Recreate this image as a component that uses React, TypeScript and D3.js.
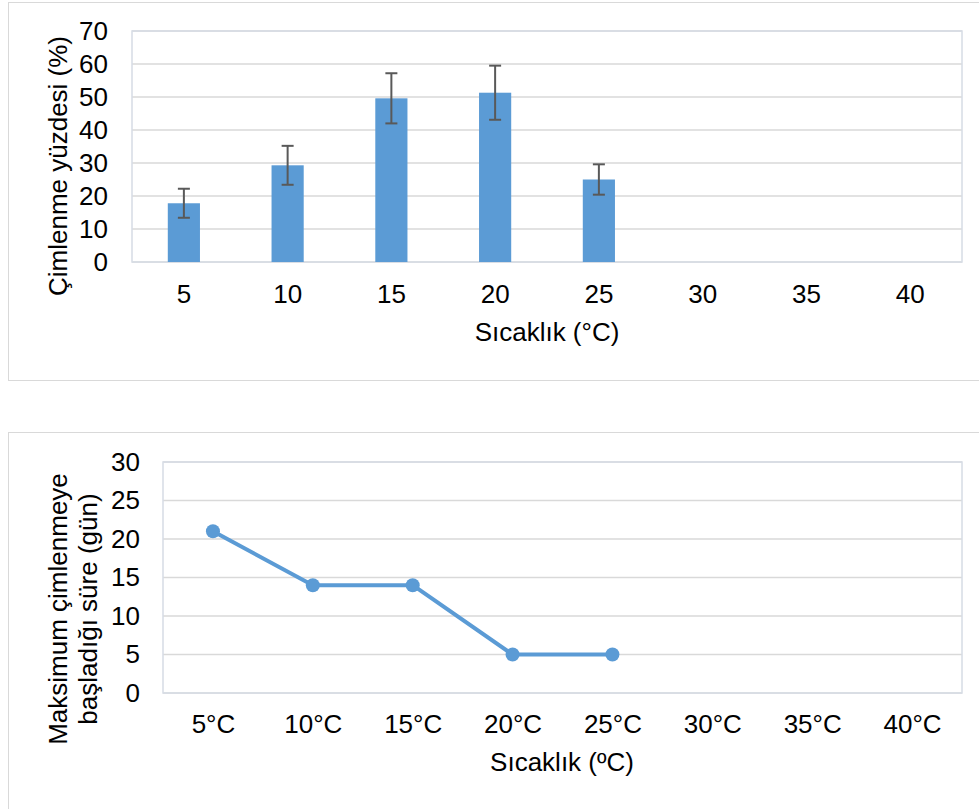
import { useEffect, useRef } from 'react';
import * as d3 from 'd3';

const temps = ['5', '10', '15', '20', '25', '30', '35', '40'];
const germPct = [17.8, 29.3, 49.6, 51.3, 25.0];
const germErr = [4.4, 5.9, 7.6, 8.2, 4.6];
const pctTicks = [0, 10, 20, 30, 40, 50, 60, 70];

const tempLabels = ['5°C', '10°C', '15°C', '20°C', '25°C', '30°C', '35°C', '40°C'];
const maxDays = [21, 14, 14, 5, 5];
const dayTicks = [0, 5, 10, 15, 20, 25, 30];

const FONT = '"Liberation Sans", Arial, sans-serif';
const FS = '26px';
const BLUE = '#5b9bd5';
const GRID = '#d9d9d9';

export default function App() {
  const ref = useRef<SVGSVGElement>(null);
  useEffect(() => {
    if (!ref.current) return;
    const svg = d3.select(ref.current);
    svg.selectAll('*').remove();
    svg.append('rect').attr('width', 979).attr('height', 809).attr('fill', '#fff');

    // ---- top: germination percentage bar chart
    svg.append('rect').attr('x', 8.5).attr('y', 2.5).attr('width', 980).attr('height', 378)
      .attr('fill', 'none').attr('stroke', GRID);
    const t = svg.append('g');
    const x1 = d3.scaleBand().domain(temps).range([132, 962]).padding(0);
    const y1 = d3.scaleLinear().domain([0, 70]).range([262, 31]);
    t.append('g').selectAll('line').data(pctTicks).enter().append('line')
      .attr('x1', 132).attr('x2', 962).attr('y1', d => y1(d)).attr('y2', d => y1(d))
      .attr('stroke', GRID).attr('stroke-width', 1.5);
    t.append('rect').attr('x', 132).attr('y', 31).attr('width', 830).attr('height', 231)
      .attr('fill', 'none').attr('stroke', '#d6dce5').attr('stroke-width', 1.5);
    const bw = x1.bandwidth() * 0.31;
    t.selectAll('rect.bar').data(germPct).enter().append('rect').attr('class', 'bar')
      .attr('x', (d, i) => x1(temps[i])! + x1.bandwidth() / 2 - bw / 2)
      .attr('y', d => y1(d)).attr('width', bw).attr('height', d => 262 - y1(d))
      .attr('fill', BLUE);
    const eb = t.append('g').attr('stroke', '#595959').attr('stroke-width', 2);
    germPct.forEach((v, i) => {
      const cx = x1(temps[i])! + x1.bandwidth() / 2;
      const hi = y1(v + germErr[i]), lo = y1(v - germErr[i]);
      eb.append('line').attr('x1', cx).attr('x2', cx).attr('y1', hi).attr('y2', lo);
      eb.append('line').attr('x1', cx - 6).attr('x2', cx + 6).attr('y1', hi).attr('y2', hi);
      eb.append('line').attr('x1', cx - 6).attr('x2', cx + 6).attr('y1', lo).attr('y2', lo);
    });
    t.append('g').attr('transform', 'translate(132,0)')
      .call(d3.axisLeft(y1).tickValues(pctTicks).tickSize(0).tickPadding(24))
      .call(g => g.select('.domain').remove())
      .selectAll('text').style('font-size', FS).style('font-family', FONT).style('fill', '#000');
    t.append('g').attr('transform', 'translate(0,262)')
      .call(d3.axisBottom(x1).tickSize(0).tickPadding(23))
      .call(g => g.select('.domain').remove())
      .selectAll('text').style('font-size', FS).style('font-family', FONT).style('fill', '#000');
    t.append('text').attr('x', 547).attr('y', 341).attr('text-anchor', 'middle')
      .style('font-size', FS).style('font-family', FONT).text('Sıcaklık (°C)');
    t.append('text').attr('transform', 'translate(58,166) rotate(-90)').attr('dy', '0.35em')
      .attr('text-anchor', 'middle').style('font-size', FS).style('font-family', FONT)
      .text('Çimlenme yüzdesi (%)');

    // ---- bottom: days to maximum germination line chart
    svg.append('rect').attr('x', 8.5).attr('y', 432.5).attr('width', 980).attr('height', 400)
      .attr('fill', 'none').attr('stroke', GRID);
    const b = svg.append('g');
    const x2 = d3.scalePoint().domain(tempLabels).range([163, 962]).padding(0.5);
    const y2 = d3.scaleLinear().domain([0, 30]).range([693, 462]);
    b.append('g').selectAll('line').data(dayTicks).enter().append('line')
      .attr('x1', 163).attr('x2', 962).attr('y1', d => y2(d)).attr('y2', d => y2(d))
      .attr('stroke', GRID).attr('stroke-width', 1.5);
    b.append('rect').attr('x', 163).attr('y', 462).attr('width', 799).attr('height', 231)
      .attr('fill', 'none').attr('stroke', '#d6dce5').attr('stroke-width', 1.5);
    const line = d3.line<number>().x((d, i) => x2(tempLabels[i])!).y(d => y2(d));
    b.append('path').datum(maxDays).attr('d', line).attr('fill', 'none')
      .attr('stroke', BLUE).attr('stroke-width', 4).attr('stroke-linejoin', 'round');
    b.selectAll('circle').data(maxDays).enter().append('circle')
      .attr('cx', (d, i) => x2(tempLabels[i])!).attr('cy', d => y2(d)).attr('r', 7).attr('fill', BLUE);
    b.append('g').attr('transform', 'translate(163,0)')
      .call(d3.axisLeft(y2).tickValues(dayTicks).tickSize(0).tickPadding(23))
      .call(g => g.select('.domain').remove())
      .selectAll('text').style('font-size', FS).style('font-family', FONT).style('fill', '#000');
    b.append('g').attr('transform', 'translate(0,693)')
      .call(d3.axisBottom(x2).tickSize(0).tickPadding(22))
      .call(g => g.select('.domain').remove())
      .selectAll('text').style('font-size', FS).style('font-family', FONT).style('fill', '#000');
    b.append('text').attr('x', 562).attr('y', 771).attr('text-anchor', 'middle')
      .style('font-size', FS).style('font-family', FONT).text('Sıcaklık (ºC)');
    const yt = b.append('text').attr('transform', 'translate(0,609) rotate(-90)')
      .attr('text-anchor', 'middle').style('font-size', FS).style('font-family', FONT);
    yt.append('tspan').attr('x', 0).attr('y', 58).attr('dy', '0.35em').text('Maksimum çimlenmeye');
    yt.append('tspan').attr('x', 0).attr('y', 88).attr('dy', '0.35em').text('başladığı süre (gün)');
  }, []);
  return (
    <div style={{ position: 'absolute', left: 0, top: 0 }}>
      <svg ref={ref} width={979} height={809} style={{ display: 'block' }} />
    </div>
  );
}
